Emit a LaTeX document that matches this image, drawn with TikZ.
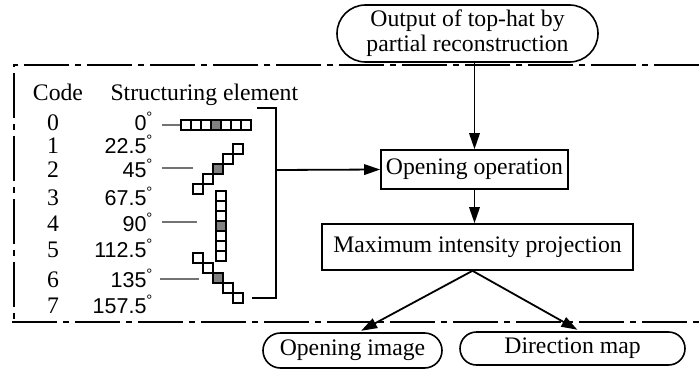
\documentclass[tikz,border=0pt]{standalone}
\usepackage{fontspec}
\setmainfont{Liberation Serif}
\setsansfont{Liberation Sans}
\usetikzlibrary{arrows.meta,calc,positioning,shapes.misc}
\newcommand{\dg}{\raisebox{8pt}{\fontsize{15}{15}\selectfont °}}
\tikzset{
  flow box/.style={rectangle,draw=black,fill=white,line width=1.6pt,
    inner sep=0pt,align=center},
  flow term/.style={flow box,rounded rectangle},
  flow edge/.style={-{Triangle[length=16pt,width=10.5pt]},line width=1.8pt},
  frame line/.style={line width=2.2pt,dash pattern=on 45pt off 6pt on 6pt off 6pt},
  code label/.style={anchor=base},
  angle label/.style={anchor=base east,font=\sffamily\fontsize{21.5}{21.5}\selectfont},
  se leader/.style={draw=black!55,line width=1.1pt},
  se cell/.style={rectangle,draw=black,fill=white,line width=1.6pt,
    minimum size=10pt,inner sep=0pt},
  se origin/.style={se cell,fill=black!50}
}
\begin{document}
\begin{tikzpicture}[x=1pt,y=-1pt,font=\fontsize{23.7}{25}\selectfont]
  \useasboundingbox (0,0) rectangle (699,372);
  % dash-dot frame round the bank of structuring elements
  \draw[frame line] (699,65) -- (14,65) -- (14,320);
  \draw[frame line] (12,322) -- (699,322);

  % flow chart
  \node[flow term,minimum width=261pt,minimum height=57pt] (tophat) at (467.5,33.5)
    {Output of top-hat by\\partial reconstruction};
  \node[flow box,minimum width=187pt,minimum height=39pt] (open) at (474.5,169.5)
    {Opening operation};
  \node[flow box,minimum width=311pt,minimum height=46pt] (mip) at (477.5,247)
    {Maximum intensity projection};
  \node[flow term,minimum width=179pt,minimum height=35pt] (openimg) at (352.5,350.5)
    {Opening image};
  \node[flow term,minimum width=225pt,minimum height=33pt] (dirmap) at (572.5,348.5)
    {Direction map};

  \coordinate (fork) at ($(mip.south)+(-5,0)$);
  \draw[flow edge] (tophat.south -| open.north) -- (open.north);
  \draw[flow edge] (open.south) -- (open.south |- mip.north);
  \draw[flow edge,shorten >=3pt] (fork) -- ($(openimg.north)+(6,0)$);
  \draw[flow edge,shorten >=3pt] (fork) -- ($(dirmap.north)+(7.5,0)$);

  % table of codes and angles
  \node[code label] (codehead) at (58,100) {Code};
  \node[anchor=base west] (sehead) at (107,100) {Structuring element};
  \foreach \i/\a/\y in {0/0/130,1/22.5/153,2/45/177,3/67.5/205,
                        4/90/231,5/112.5/257,6/135/287,7/157.5/313}{
    \node[code label] (code\i) at (53,\y) {\i};
    \node[angle label] (ang\i) at (150,\y) {\a\rlap{\dg}};
  }

  % line elements, grey cell is the origin
  \foreach \k in {-3,...,3}
    \node[se cell] (hor\k) at ({216+10*\k},125) {};
  \node[se origin] (hor0) at (216,125) {};
  \foreach \k in {-2,...,2}
    \node[se cell] (diag\k) at ({218+10*\k},{169-10*\k}) {};
  \node[se origin] (diag0) at (218,169) {};
  \foreach \k in {-3,...,3}
    \node[se cell] (ver\k) at (221,{226+10*\k}) {};
  \node[se origin] (ver0) at (221,226) {};
  \foreach \k in {-2,...,2}
    \node[se cell] (anti\k) at ({218+10*\k},{278+10*\k}) {};
  \node[se origin] (anti0) at (218,278) {};

  \draw[se leader] (162,125) -- (hor-3.west);
  \draw[se leader] (162,168) -- (193,168);
  \draw[se leader] (162,222) -- (197,222);
  \draw[se leader] (160,279) -- (199,279);

  % bracket gathering the bank
  \draw[line width=1.6pt] (257,108) -- (276,108) -- (276,298) -- (252,298);
  \coordinate (bank) at (276,170);
  \draw[flow edge] (bank) -- (open.west);
\end{tikzpicture}
\end{document}
